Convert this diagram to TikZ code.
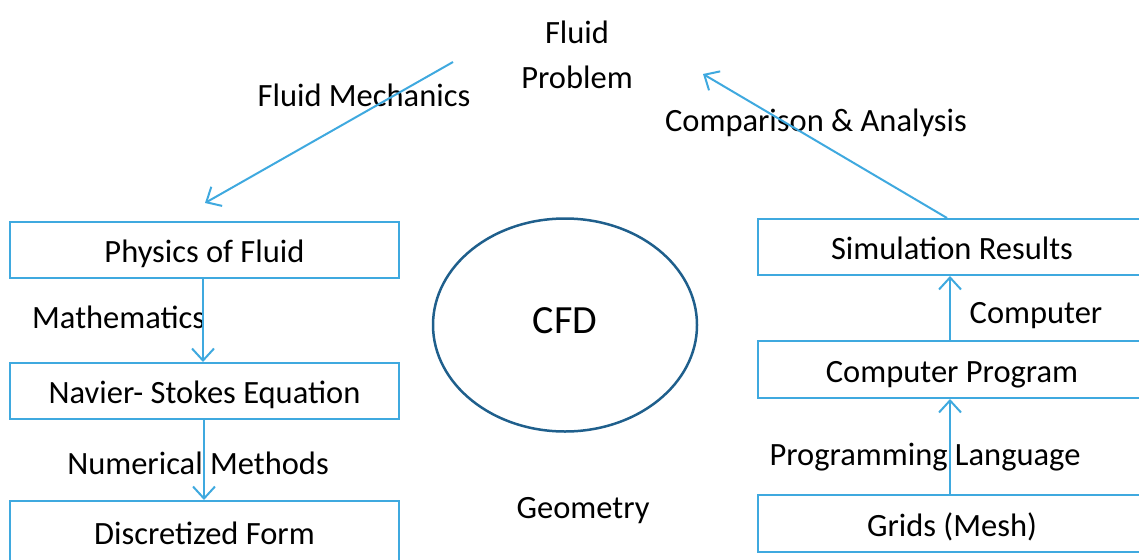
\documentclass[tikz,border=0pt]{standalone}
\usepackage{fontspec}
\setmainfont{Carlito}
\usetikzlibrary{arrows.meta,calc,shapes.geometric}
\definecolor{lblue}{HTML}{3FA9DF}
\definecolor{dblue}{HTML}{1F5F8C}
\tikzset{
  box/.style={draw=lblue, line width=2pt, minimum width=389pt, minimum height=56pt, inner sep=0pt, text height=25pt, text depth=0pt, font=\fontsize{32.5}{38}\selectfont},
  lbl/.style={inner sep=0pt, font=\fontsize{32.5}{38}\selectfont},
  arr/.style={draw=lblue, line width=2pt, -{Straight Barb[length=12pt,width=22pt,line width=2pt]}},
}
\begin{document}
\begin{tikzpicture}[x=1pt,y=-1pt]
\useasboundingbox (0,0) rectangle (1139,559);
\clip (0,0) rectangle (1139,559);
% left column
\node[box] (phys) at (204.5,250) {Physics of Fluid};
\node[box] (nav) at (204.5,391) {Navier- Stokes Equation};
\node[box, minimum height=62pt] (disc) at (204.5,532) {Discretized Form};
% right column
\node[box] (sim) at (952,247) {Simulation Results};
\node[box, minimum height=57pt] (prog) at (952,369.5) {Computer Program};
\node[box, minimum height=57pt] (grid) at (952,523.5) {Grids (Mesh)};
% ellipse
\node[draw=dblue, line width=2.5pt, ellipse, minimum width=264pt, minimum height=213pt, inner sep=0pt, text height=26pt, text depth=10pt, font=\fontsize{40}{46}\selectfont] (cfd) at (565,325) {CFD};
% top node
\node[lbl, align=center, font=\fontsize{32.5}{45}\selectfont] (prob) at (577,55) {Fluid\\Problem};
% labels
\node[lbl] (fm) at (364,95) {Fluid Mechanics};
\node[lbl] (ca) at (816,123) {Comparison \& Analysis};
\node[lbl, anchor=west] (math) at (32,317) {Mathematics};
\node[lbl] (num) at (198,463) {Numerical Methods};
\node[lbl] (geo) at (583,511) {Geometry};
\node[lbl] (comp) at (1036,316) {Computer};
\node[lbl] (pl) at (925,457) {Programming Language};
% arrows
\coordinate (fmstart) at (453,62);
\coordinate (fmend) at (205,203);
\coordinate (caend) at (703,74);
\draw[arr] (fmstart) -- (fmend);
\draw[arr] (sim.north -| 947,0) -- (caend);
\draw[arr] (phys.south -| 203,0) -- (nav.north -| 203,0);
\draw[arr] (nav.south -| 204,0) -- (disc.north -| 204,0);
\draw[arr] (prog.north -| 950,0) -- (sim.south -| 950,0);
\draw[arr] (grid.north -| 950,0) -- (prog.south -| 950,0);
\end{tikzpicture}
\end{document}
